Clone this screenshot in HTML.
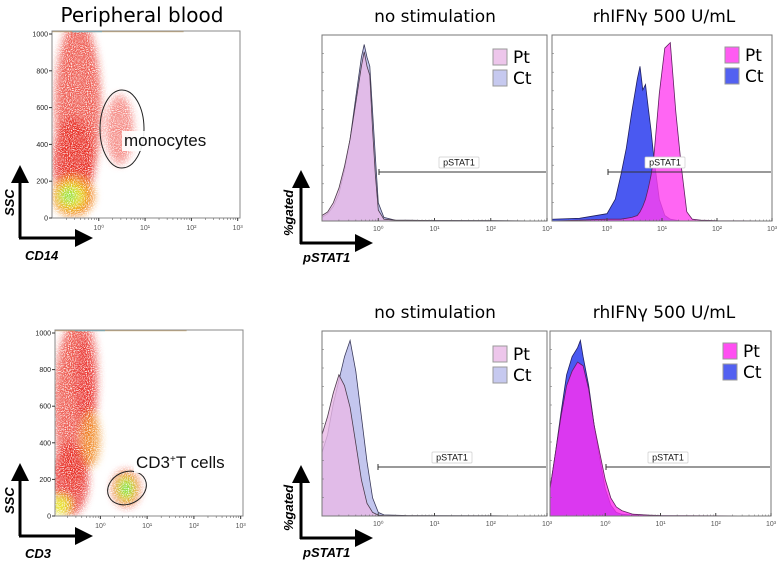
<!DOCTYPE html>
<html><head><meta charset="utf-8"><style>
html,body{margin:0;padding:0;background:#fff;width:778px;height:563px;overflow:hidden}
svg{display:block;font-family:"Liberation Sans",sans-serif}
.ttl{font-family:"DejaVu Sans","Liberation Sans",sans-serif;font-size:17px;fill:#000}
.tk{font-size:7px;fill:#555}
.lg{font-family:"DejaVu Sans","Liberation Sans",sans-serif;font-size:17px;fill:#000}
.ax{font-style:italic;font-size:13px;font-weight:bold;fill:#000}
</style></head><body>
<svg id="fig" width="778" height="563" viewBox="0 0 778 563" xmlns="http://www.w3.org/2000/svg">
<defs>
<filter id="speckle" x="-50%" y="-50%" width="200%" height="200%">
  <feGaussianBlur in="SourceGraphic" stdDeviation="4" result="b"/>
  <feTurbulence type="fractalNoise" baseFrequency="0.95" numOctaves="1" seed="7" result="n"/>
  <feColorMatrix in="n" type="matrix" values="0 0 0 0 0  0 0 0 0 0  0 0 0 0 0  0 0 0 3.2 -0.8" result="m"/>
  <feComposite in="b" in2="m" operator="in"/>
</filter>
<marker id="arr" markerWidth="6" markerHeight="6" refX="1" refY="3" orient="auto"><path d="M0,0 L6,3 L0,6 z" fill="#000"/></marker>
</defs>
<text class="ttl" x="142" y="22" text-anchor="middle" style="font-size:20px">Peripheral blood</text>
<text class="ttl" x="435" y="22" text-anchor="middle">no stimulation</text>
<text class="ttl" x="664" y="22" text-anchor="middle">rhIFNγ 500 U/mL</text>
<text class="ttl" x="435" y="318" text-anchor="middle">no stimulation</text>
<text class="ttl" x="664" y="318" text-anchor="middle">rhIFNγ 500 U/mL</text>
<g id="root"></g>
</svg>
<script>
// ---- scatter cluster data: [logX, SSC, rxDecades, rySSC, color, opacity]
const scatterTopClusters = [
  [-0.45, 600, 0.5, 480, '#e8261e', 0.75],
  [-0.55, 300, 0.45, 250, '#e8261e', 0.85],
  [-0.55, 120, 0.45, 110, '#f07a10', 1.0],
  [-0.6, 120, 0.3, 70, '#e6e020', 1.0],
  [-0.65, 120, 0.18, 40, '#8ee040', 1.0],
  [0.45, 480, 0.3, 190, '#ee3a30', 0.6]
];
const scatterBotClusters = [
  [-0.55, 600, 0.45, 450, '#e8261e', 0.75],
  [-0.3, 750, 0.25, 300, '#e8261e', 0.65],
  [-0.2, 420, 0.2, 150, '#f09020', 0.8],
  [-0.65, 200, 0.4, 200, '#e8261e', 0.85],
  [-0.85, 60, 0.2, 50, '#e6e020', 1.0],
  [0.55, 150, 0.3, 100, '#e8261e', 0.9],
  [0.55, 150, 0.2, 70, '#e6e020', 1.0],
  [0.55, 150, 0.12, 45, '#60e050', 1.0]
];
// ---- histogram data (log10 positions and relative heights)
const logTL = [-1,-0.9,-0.8,-0.7,-0.6,-0.5,-0.4,-0.3,-0.25,-0.2,-0.15,-0.1,-0.05,0,0.1,0.3,1,2,3];
const ptTL  = [0.03,0.05,0.1,0.18,0.3,0.45,0.65,0.85,0.93,0.85,0.8,0.5,0.25,0.06,0.01,0.005,0.003,0.002,0];
const ctTL  = [0.02,0.04,0.08,0.15,0.28,0.45,0.68,0.9,0.97,0.9,0.85,0.6,0.35,0.1,0.02,0.005,0.003,0.002,0];
const logTR = [-1,-0.5,0,0.15,0.25,0.35,0.45,0.55,0.6,0.65,0.7,0.75,0.8,0.85,0.95,1.05,1.15,1.25,1.35,1.45,1.55,1.7,2,3];
const ctTR  = [0.01,0.015,0.04,0.12,0.25,0.4,0.6,0.78,0.85,0.72,0.75,0.62,0.5,0.35,0.12,0.03,0.01,0.005,0,0,0,0,0,0];
const ptTR  = [0,0.005,0.01,0.01,0.01,0.015,0.02,0.03,0.05,0.08,0.12,0.18,0.25,0.35,0.7,0.95,0.98,0.6,0.3,0.05,0.01,0.005,0.002,0];
const logBL = [-1,-0.95,-0.9,-0.8,-0.7,-0.6,-0.5,-0.4,-0.3,-0.2,-0.1,0,0.1,0.5,1,2,3];
const ptBL  = [0.45,0.5,0.55,0.68,0.78,0.72,0.6,0.4,0.2,0.07,0.02,0.005,0.003,0.002,0.001,0.001,0];
const ctBL  = [0.35,0.4,0.45,0.62,0.75,0.88,0.97,0.8,0.55,0.3,0.1,0.02,0.006,0.003,0.002,0.001,0];
const logBR = [-1,-0.9,-0.8,-0.7,-0.6,-0.5,-0.45,-0.4,-0.3,-0.2,-0.1,0,0.1,0.2,0.3,0.5,0.8,1,2,3];
const ptBR  = [0.15,0.35,0.55,0.72,0.8,0.85,0.84,0.83,0.7,0.5,0.35,0.2,0.1,0.05,0.03,0.01,0.005,0.003,0.001,0];
const ctBR  = [0.15,0.35,0.57,0.78,0.88,0.93,0.97,0.88,0.72,0.5,0.32,0.15,0.06,0.02,0.01,0.005,0.002,0.001,0,0];
const decadeLabels = ['10⁰','10¹','10²','10³'];
const decadeVals = [0,1,2,3];
const sscTicks = [0,200,400,600,800,1000];

const NS='http://www.w3.org/2000/svg';
const root=document.getElementById('root');
function el(tag,attrs,parent){const e=document.createElementNS(NS,tag);for(const k in attrs)e.setAttribute(k,attrs[k]);(parent||root).appendChild(e);return e;}

function scatter(name,box,clusters,gate,labelTxt,labelPos,xname){
  const g=el('g',{});
  
  
  const xs=v=>box.x0+(v-box.lmin)/(box.lmax-box.lmin)*(box.x1-box.x0);
  const ys=v=>box.y0-(v/1000)*(box.y0-box.yTop);
  const clipId=name+'-clip';
  const cp=el('clipPath',{id:clipId},g);el('rect',{x:box.x0,y:box.yTop-3,width:box.x1-box.x0,height:box.y0-box.yTop+3},cp);
  const cg=el('g',{'clip-path':'url(#'+clipId+')'},g);
  const sg=el('g',{filter:'url(#speckle)'},cg);
  clusters.forEach(c=>{
    const e=el('ellipse',{cx:xs(c[0]),cy:ys(c[1]),rx:c[2]/(box.lmax-box.lmin)*(box.x1-box.x0),ry:c[3]/1000*(box.y0-box.yTop),fill:c[4],opacity:c[5]},sg);
    
    
  });
  el('rect',{x:box.x0,y:box.yTop-3,width:(box.x1-box.x0)*0.7,height:1.2,fill:'#c8a060',opacity:0.8},g);
  el('rect',{x:box.x0+20,y:box.yTop-3,width:30,height:1.2,fill:'#60c0e0',opacity:0.8},g);
  el('rect',{x:box.x0,y:box.yTop-3,width:box.x1-box.x0,height:box.y0-box.yTop+3,fill:'none',stroke:'#888','stroke-width':1},g);
  sscTicks.forEach(t=>{
    el('line',{x1:box.x0-3,x2:box.x0,y1:ys(t),y2:ys(t),stroke:'#333'},g);
    const tx=el('text',{x:box.x0-4,y:ys(t)+2.5,'text-anchor':'end',style:'font-size:7px;fill:#222'},g);tx.textContent=t;
  });
  decadeVals.forEach((d,i)=>{
    el('line',{x1:xs(d),x2:xs(d),y1:box.y0,y2:box.y0+3,stroke:'#333'},g);
    for(let m=2;m<10;m++){const lx=xs(d-1+Math.log10(m));if(lx>box.x0)el('line',{x1:lx,x2:lx,y1:box.y0,y2:box.y0+2,stroke:'#666','stroke-width':0.6},g);}
    const tx=el('text',{x:xs(d),y:box.y0+12,'text-anchor':'middle',class:'tk'},g);tx.textContent=decadeLabels[i];
  });
  const ge=el('ellipse',{cx:gate.cx,cy:gate.cy,rx:gate.rx,ry:gate.ry,fill:'none',stroke:'#222','stroke-width':1,transform:'rotate('+gate.rot+' '+gate.cx+' '+gate.cy+')'},g);
  
  
  el('rect',{x:labelPos.x-2,y:labelPos.y-15,width:labelPos.w,height:20,fill:'#fff',opacity:0.9},g);
  const lt=el('text',{x:labelPos.x,y:labelPos.y,style:'font-size:17px;fill:#111'},g);lt.innerHTML=labelTxt;
  
  
  const ay=box.y0+20;
  el('line',{x1:20,y1:ay,x2:20,y2:box.y0-38,stroke:'#000','stroke-width':3,'marker-end':'url(#arr)'},g);
  el('line',{x1:19,y1:ay,x2:78,y2:ay,stroke:'#000','stroke-width':3,'marker-end':'url(#arr)'},g);
  const s=el('text',{x:0,y:0,class:'ax',transform:'translate(14,'+(box.y0-2)+') rotate(-90)'},g);s.textContent='SSC';
  
  
  const xt=el('text',{x:25,y:ay+22,class:'ax'},g);xt.textContent=xname;
  
  
}

function hist(name,box,logs,series,gateY,gateX,labelX,legendX,legendY,withArrow){
  const g=el('g',{});
  
  
  const xs=v=>box.x0+(v+1)/4*(box.x1-box.x0);
  const ys=v=>box.y1-v*(box.y1-box.y0-4);
  series.forEach(s=>{
    let d='M'+xs(logs[0])+','+box.y1;
    logs.forEach((l,i)=>{d+=' L'+xs(l).toFixed(1)+','+ys(s.vals[i]).toFixed(1);});
    d+=' L'+xs(logs[logs.length-1])+','+box.y1+' Z';
    const p=el('path',{d:d,fill:s.fill,'fill-opacity':s.op,stroke:s.stroke,'stroke-width':0.8},g);
    
    
  });
  el('rect',{x:box.x0,y:box.y0,width:box.x1-box.x0,height:box.y1-box.y0,fill:'none',stroke:'#777','stroke-width':1},g);
  for(let k=1;k<10;k++){const yy=box.y0+k*(box.y1-box.y0)/10;el('line',{x1:box.x0,x2:box.x0+2,y1:yy,y2:yy,stroke:'#777','stroke-width':0.6},g);}
  decadeVals.forEach((d,i)=>{
    el('line',{x1:xs(d),x2:xs(d),y1:box.y1,y2:box.y1-3,stroke:'#444'},g);
    for(let m=2;m<10;m++){const lx=xs(d-1+Math.log10(m));el('line',{x1:lx,x2:lx,y1:box.y1,y2:box.y1-1.5,stroke:'#666','stroke-width':0.5},g);}
    const tx=el('text',{x:xs(d),y:box.y1+10,'text-anchor':'middle',class:'tk'},g);tx.textContent=decadeLabels[i];
  });
  const gl=el('line',{x1:gateX,x2:box.x1-1,y1:gateY,y2:gateY,stroke:'#333','stroke-width':1},g);
  
  
  el('line',{x1:gateX,x2:gateX,y1:gateY-3,y2:gateY+3,stroke:'#333'},g);
  el('rect',{x:labelX-20,y:gateY-15,width:40,height:11,fill:'#fff',stroke:'#ccc','stroke-width':0.7,rx:1},g);
  const lt=el('text',{x:labelX,y:gateY-6.5,'text-anchor':'middle',style:'font-size:9px;fill:#111'},g);lt.textContent='pSTAT1';
  
  
  series.slice().reverse().forEach((s,i)=>{
    const lgY=legendY+i*21;
    el('rect',{x:legendX,y:lgY,width:14,height:16,fill:s.fill,'fill-opacity':s.legOp,stroke:'#999','stroke-width':1},g);
    const t=el('text',{x:legendX+20,y:lgY+14,class:'lg'},g);t.textContent=s.label;
    
    
  });
  if(withArrow){
    const ay=box.y1+22;
    el('line',{x1:301,y1:ay+1,x2:301,y2:box.y1-36,stroke:'#000','stroke-width':3,'marker-end':'url(#arr)'},g);
    el('line',{x1:300,y1:ay,x2:358,y2:ay,stroke:'#000','stroke-width':3,'marker-end':'url(#arr)'},g);
    const s=el('text',{x:0,y:0,class:'ax',transform:'translate(293,'+(box.y1+15)+') rotate(-90)'},g);s.textContent='%gated';
    
    
    const xt=el('text',{x:303,y:ay+19,class:'ax'},g);xt.textContent='pSTAT1';
    
    
  }
}

scatter('scatter-cd14',{x0:52,x1:240,yTop:34,y0:218,lmin:-1.01,lmax:3.05},scatterTopClusters,
  {cx:122,cy:129,rx:22,ry:39,rot:0},'monocytes',{x:124,y:146,w:94},'CD14');
scatter('scatter-cd3',{x0:55,x1:243,yTop:333,y0:516,lmin:-0.97,lmax:3.05},scatterBotClusters,
  {cx:127,cy:488,rx:20,ry:16,rot:-25},'CD3<tspan dy="-6" style="font-size:10px">+</tspan><tspan dy="6">T cells</tspan>',{x:136,y:468,w:102},'CD3');

const lightPt={fill:'#e8b8e6',stroke:'#4a3a4a'};
const lightCt={fill:'#b8bceb',stroke:'#3a3a5a'};
hist('hist-top-nostim',{x0:322,x1:547,y0:35,y1:221},logTL,[
  {name:'series-ct',label:'Ct',vals:ctTL,fill:lightCt.fill,stroke:lightCt.stroke,op:0.85,legOp:0.8},
  {name:'series-pt',label:'Pt',vals:ptTL,fill:lightPt.fill,stroke:lightPt.stroke,op:0.8,legOp:0.8}],172,379,459,493,49,true);
hist('hist-top-ifn',{x0:552,x1:772,y0:35,y1:221},logTR,[
  {name:'series-ct',label:'Ct',vals:ctTR,fill:'#4050f0',stroke:'#202060',op:0.95,legOp:0.9},
  {name:'series-pt',label:'Pt',vals:ptTR,fill:'#ff40f0',stroke:'#602060',op:0.8,legOp:0.85}],172,608,665,725,47,false);
hist('hist-bottom-nostim',{x0:322,x1:547,y0:331,y1:516},logBL,[
  {name:'series-ct',label:'Ct',vals:ctBL,fill:lightCt.fill,stroke:lightCt.stroke,op:0.85,legOp:0.8},
  {name:'series-pt',label:'Pt',vals:ptBL,fill:lightPt.fill,stroke:lightPt.stroke,op:0.8,legOp:0.8}],467,378,452,493,346,true);
hist('hist-bottom-ifn',{x0:550,x1:771,y0:331,y1:516},logBR,[
  {name:'series-ct',label:'Ct',vals:ctBR,fill:'#4050f0',stroke:'#202060',op:0.95,legOp:0.9},
  {name:'series-pt',label:'Pt',vals:ptBR,fill:'#ff30f0',stroke:'#602060',op:0.8,legOp:0.85}],467,606,668,723,343,false);
</script>
</body></html>
